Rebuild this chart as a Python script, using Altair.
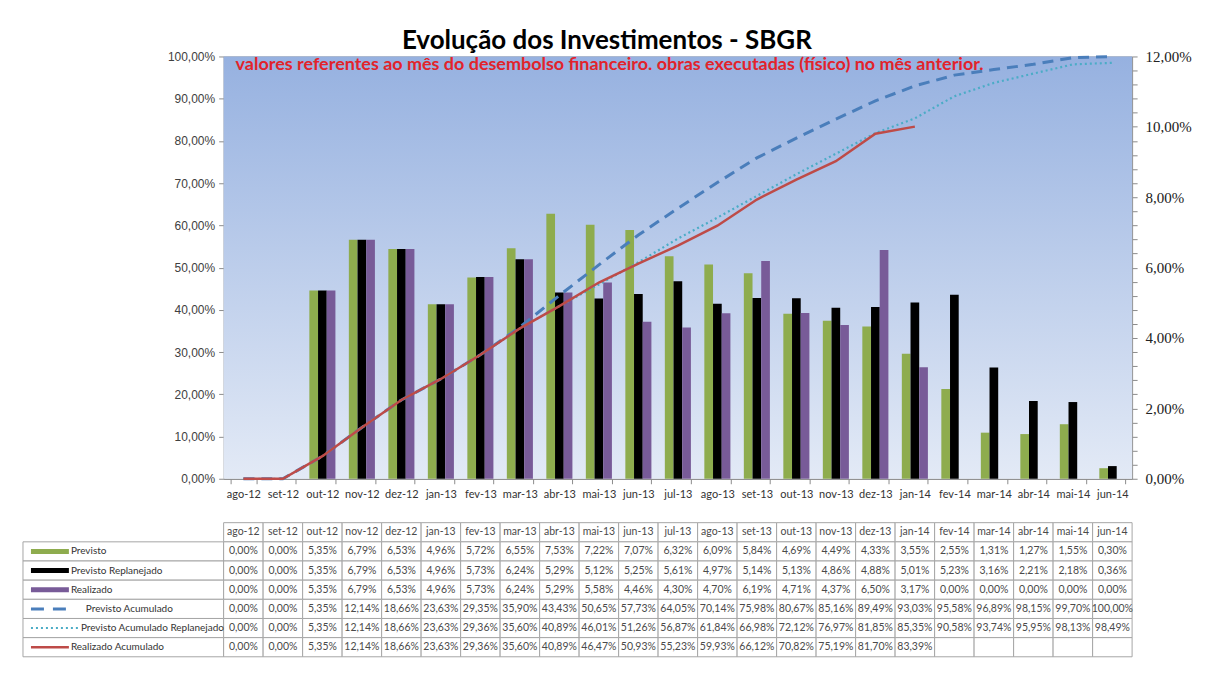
import altair as alt
import pandas as pd

months = ["ago-12", "set-12", "out-12", "nov-12", "dez-12", "jan-13", "fev-13", "mar-13",
          "abr-13", "mai-13", "jun-13", "jul-13", "ago-13", "set-13", "out-13", "nov-13",
          "dez-13", "jan-14", "fev-14", "mar-14", "abr-14", "mai-14", "jun-14"]

previsto = [0, 0, 5.35, 6.79, 6.53, 4.96, 5.72, 6.55, 7.53, 7.22, 7.07, 6.32, 6.09, 5.84,
            4.69, 4.49, 4.33, 3.55, 2.55, 1.31, 1.27, 1.55, 0.30]
previsto_replan = [0, 0, 5.35, 6.79, 6.53, 4.96, 5.73, 6.24, 5.29, 5.12, 5.25, 5.61, 4.97,
                   5.14, 5.13, 4.86, 4.88, 5.01, 5.23, 3.16, 2.21, 2.18, 0.36]
realizado = [0, 0, 5.35, 6.79, 6.53, 4.96, 5.73, 6.24, 5.29, 5.58, 4.46, 4.30, 4.70, 6.19,
             4.71, 4.37, 6.50, 3.17, 0, 0, 0, 0, 0]
previsto_acum = [0, 0, 5.35, 12.14, 18.66, 23.63, 29.35, 35.90, 43.43, 50.65, 57.73, 64.05,
                 70.14, 75.98, 80.67, 85.16, 89.49, 93.03, 95.58, 96.89, 98.15, 99.70, 100.00]
previsto_acum_replan = [0, 0, 5.35, 12.14, 18.66, 23.63, 29.36, 35.60, 40.89, 46.01, 51.26,
                        56.87, 61.84, 66.98, 72.12, 76.97, 81.85, 85.35, 90.58, 93.74, 95.95,
                        98.13, 98.49]
realizado_acum = [0, 0, 5.35, 12.14, 18.66, 23.63, 29.36, 35.60, 40.89, 46.47, 50.93, 55.23,
                  59.93, 66.12, 70.82, 75.19, 81.70, 83.39, None, None, None, None, None]

bar_series = ["Previsto", "Previsto Replanejado", "Realizado"]
line_series = ["Previsto Acumulado", "Previsto Acumulado Replanejado", "Realizado Acumulado"]
title_text = "Evolução dos Investimentos - SBGR"
note_text = "valores referentes ao mês do desembolso financeiro. obras executadas (físico) no mês anterior."

# ---- styles ----
C_GREEN = "#8eac4e"
C_BLACK = "#000000"
C_PURPLE = "#785b98"
C_DASH = "#4a7ebb"
C_DOT = "#4bacc6"
C_RED = "#be4b48"
W, H = 910, 423
STEP = W / len(months)
ROW_H = 19.19

def pct(v):
    return "" if v is None else f"{v:.2f}".replace(".", ",") + "%"

# ---------------- main chart ----------------
bar_rows = []
for s, vals in zip(bar_series, [previsto, previsto_replan, realizado]):
    for m, v in zip(months, vals):
        bar_rows.append({"mes": m, "serie": s, "valor": v})
bar_df = pd.DataFrame(bar_rows)

line_df = pd.DataFrame({"mes": months, "pa": previsto_acum, "par": previsto_acum_replan,
                        "ra": realizado_acum})

xscale = alt.Scale(domain=months, paddingInner=0.34, paddingOuter=0.17)
xaxis = alt.Axis(title=None, labelAngle=0, tickBand="extent", labelFont="Lato",
                 labelFontSize=11, labelColor="#333333", domainColor="#8c8c8c",
                 tickColor="#8c8c8c", tickSize=5, labelPadding=5)

right_vals = [round(i * 0.4, 1) for i in range(31)]
right_axis = alt.Axis(orient="right", title=None, values=right_vals, grid=False,
                      labelExpr="abs(datum.value/2 - round(datum.value/2)) < 0.001 ? replace(format(datum.value, '.2f'), '.', ',') + '%' : ''",
                      labelFont="Liberation Serif", labelFontSize=15, labelColor="#222222",
                      domainColor="#8c8c8c", tickColor="#8c8c8c", tickSize=5, labelPadding=8)

left_axis = alt.Axis(title=None, values=list(range(0, 101, 10)), grid=True,
                     gridColor="#8c8c8c", gridWidth=1,
                     labelExpr="replace(format(datum.value, '.2f'), '.', ',') + '%'",
                     labelFont="Liberation Sans", labelFontSize=12, labelColor="#404040",
                     domainColor="#8c8c8c", tickColor="#8c8c8c", tickSize=5, labelPadding=4)

grad = alt.LinearGradient(gradient="linear", x1=0, x2=0, y1=0, y2=1,
                          stops=[alt.GradientStop(offset=0, color="#96b1e0"),
                                 alt.GradientStop(offset=1, color="#e3eaf6")])
bg = alt.Chart(pd.DataFrame({"k": [0]})).mark_rect(fill=grad).encode(
    x=alt.value(0), x2=alt.value(W), y=alt.value(0), y2=alt.value(H))

bars = alt.Chart(bar_df).mark_bar().encode(
    x=alt.X("mes:N", sort=months, scale=xscale, axis=xaxis),
    xOffset=alt.XOffset("serie:N", sort=bar_series,
                        scale=alt.Scale(domain=bar_series, paddingInner=0, paddingOuter=0)),
    y=alt.Y("valor:Q", scale=alt.Scale(domain=[0, 12], nice=False), axis=right_axis),
    color=alt.Color("serie:N", scale=alt.Scale(domain=bar_series,
                                                range=[C_GREEN, C_BLACK, C_PURPLE]),
                    legend=None),
)

ly = alt.Scale(domain=[0, 100], nice=False)
base_line = alt.Chart(line_df).encode(x=alt.X("mes:N", sort=months, scale=xscale, axis=xaxis))
l_pa = base_line.mark_line(color=C_DASH, strokeWidth=3, strokeDash=[11, 7]).encode(
    y=alt.Y("pa:Q", scale=ly, axis=left_axis))
l_par = base_line.mark_line(color=C_DOT, strokeWidth=2.2, strokeDash=[2, 3]).encode(
    y=alt.Y("par:Q", scale=ly))
l_ra = base_line.mark_line(color=C_RED, strokeWidth=2.5).transform_filter(
    "isValid(datum.ra)").encode(y=alt.Y("ra:Q", scale=ly))

note = alt.Chart(pd.DataFrame({"t": [note_text]})).mark_text(
    align="left", baseline="middle", font="Lato", fontSize=18, fontWeight="bold",
    color="#e2232b").encode(text="t:N", x=alt.value(12), y=alt.value(9))

lines = alt.layer(l_pa, l_par, l_ra, note)

main = alt.layer(bg, bars, lines).resolve_scale(y="independent").properties(
    width=W, height=H)

# ---------------- data table ----------------
LEG_LEFT = -201 / STEP
cells = []
texts = []
for i, m in enumerate(months):
    cells.append({"c0": i, "c1": i + 1, "r0": 0, "r1": 1})
    texts.append({"xc": i + 0.5, "yc": 0.5, "t": m})
all_series = [previsto, previsto_replan, realizado, previsto_acum, previsto_acum_replan,
              realizado_acum]
for r, vals in enumerate(all_series, start=1):
    cells.append({"c0": LEG_LEFT, "c1": 0, "r0": r, "r1": r + 1})
    for i, v in enumerate(vals):
        cells.append({"c0": i, "c1": i + 1, "r0": r, "r1": r + 1})
        texts.append({"xc": i + 0.5, "yc": r + 0.5, "t": pct(v)})
cells_df = pd.DataFrame(cells)
texts_df = pd.DataFrame(texts)

tx = alt.Scale(domain=[0, len(months)], nice=False, zero=False)
ty = alt.Scale(domain=[0, 7], nice=False, zero=False, reverse=True)

t_cells = alt.Chart(cells_df).mark_rect(fill="white", stroke="#a6a6a6", strokeWidth=1).encode(
    x=alt.X("c0:Q", scale=tx, axis=None), x2="c1:Q",
    y=alt.Y("r0:Q", scale=ty, axis=None), y2="r1:Q")
t_text = alt.Chart(texts_df).mark_text(font="Lato", fontSize=10.5, color="#4a4a4a").encode(
    x=alt.X("xc:Q", scale=tx, axis=None), y=alt.Y("yc:Q", scale=ty, axis=None), text="t:N")

# legend column: swatches and labels (pixel offsets relative to the table's first column)
sw_x0 = -193 / STEP
sw_x1 = -155 / STEP
sw_x1_dot = -143 / STEP
lab_x = {"Previsto": -153, "Previsto Replanejado": -153, "Realizado": -153,
         "Previsto Acumulado": -138, "Previsto Acumulado Replanejado": -143,
         "Realizado Acumulado": -153}
all_names = bar_series + line_series
leg_lab_df = pd.DataFrame({"x": [lab_x[n] / STEP for n in all_names],
                           "y": [r + 0.5 for r in range(1, 7)], "t": all_names})
t_labels = alt.Chart(leg_lab_df).mark_text(font="Lato", fontSize=10, color="#333333",
                                           align="left").encode(
    x=alt.X("x:Q", scale=tx, axis=None), y=alt.Y("y:Q", scale=ty, axis=None), text="t:N")

sw_rect_df = pd.DataFrame({"x0": [sw_x0] * 3, "x1": [sw_x1] * 3,
                           "y0": [r + 0.5 - 0.13 for r in range(1, 4)],
                           "y1": [r + 0.5 + 0.13 for r in range(1, 4)],
                           "s": bar_series})
t_sw_bars = alt.Chart(sw_rect_df).mark_rect().encode(
    x=alt.X("x0:Q", scale=tx, axis=None), x2="x1:Q",
    y=alt.Y("y0:Q", scale=ty, axis=None), y2="y1:Q",
    color=alt.Color("s:N", scale=alt.Scale(domain=bar_series,
                                            range=[C_GREEN, C_BLACK, C_PURPLE]), legend=None))

def sw_line(row, x1, **kw):
    d = pd.DataFrame({"x0": [sw_x0], "x1": [x1], "y": [row + 0.5]})
    return alt.Chart(d).mark_rule(**kw).encode(
        x=alt.X("x0:Q", scale=tx, axis=None), x2="x1:Q",
        y=alt.Y("y:Q", scale=ty, axis=None))

t_sw_pa = sw_line(4, -158 / STEP, color=C_DASH, strokeWidth=3, strokeDash=[13, 9])
t_sw_par = sw_line(5, sw_x1_dot, color=C_DOT, strokeWidth=2, strokeDash=[2, 3])
t_sw_ra = sw_line(6, sw_x1, color=C_RED, strokeWidth=2.5)

table = alt.layer(t_cells, t_text, t_labels, t_sw_bars, t_sw_pa, t_sw_par, t_sw_ra).properties(
    width=W, height=ROW_H * 7)

chart = alt.vconcat(main, table, spacing=22).resolve_scale(
    x="independent", y="independent", color="independent").properties(
    title=alt.TitleParams(title_text, font="Lato", fontSize=26, fontWeight="bold",
                          color="#000000", anchor="middle", offset=-5),
    padding={"left": 14, "top": 20, "right": 5, "bottom": 5},
    background="white",
).configure_view(stroke=None)

chart.save("out.html", embed_options={"renderer": "svg", "actions": False})
